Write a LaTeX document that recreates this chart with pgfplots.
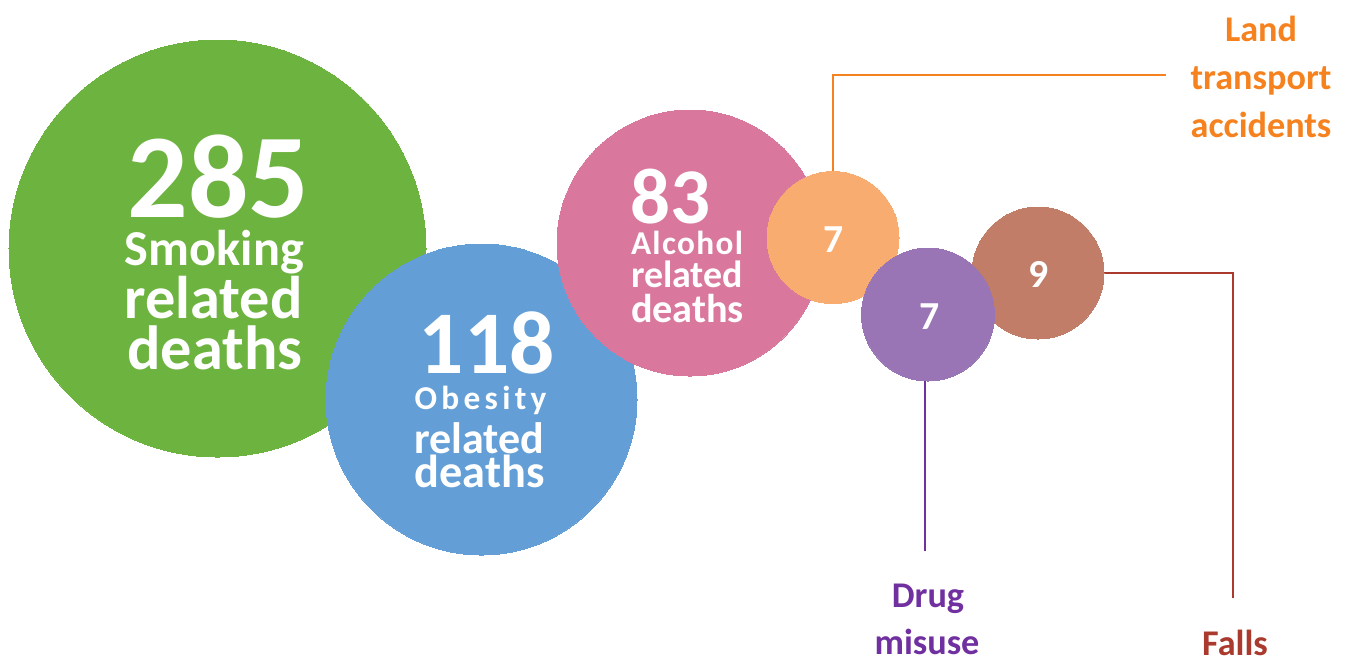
\documentclass[border=0pt]{standalone}
\usepackage{pgfplots}
\pgfplotsset{compat=1.18}
\usepackage{pgfplotstable}
\usepackage{graphicx}
\usepackage{fontspec}
\setmainfont{Carlito}
\newfontfamily\wide[LetterSpace=13]{Carlito}
\newfontfamily\spaced[LetterSpace=4]{Carlito}

\definecolor{cgreen}{HTML}{6DB33F}
\definecolor{cblue}{HTML}{639FD6}
\definecolor{cpink}{HTML}{D9779D}
\definecolor{corange}{HTML}{F9AC70}
\definecolor{cpurple}{HTML}{9A75B5}
\definecolor{cbrown}{HTML}{C17D67}
\definecolor{torange}{HTML}{F5821F}
\definecolor{tpurple}{HTML}{7030A0}
\definecolor{tbrown}{HTML}{A93A2D}

% bubbles: centre and radius in picture pixels (y counted from the top)
\pgfplotstableread{
x      y      r
217.5  248.5  208.5
}\smoking
\pgfplotstableread{
x      y      r
481.5  399.5  155.5
}\obesity
\pgfplotstableread{
x      y      r
690    243    133
}\alcohol
\pgfplotstableread{
x      y      r
833    237.5  66
}\transport
\pgfplotstableread{
x      y      r
1038   273    66
}\falls
\pgfplotstableread{
x      y      r
928    314.5  66.5
}\drugs

% 1 px = 0.1 mm = 0.28453 pt
\newcommand{\fit}[2]{\resizebox{#1mm}{!}{\bfseries #2}}

\pgfplotsset{
    bubble/.style={
        scatter, only marks, mark=*,
        scatter/use mapped color={draw=#1, fill=#1, line width=0pt},
        visualization depends on={\thisrow{r} \as \rad},
        scatter/@pre marker code/.append style={/tikz/mark size=0.28453*\rad},
    },
}

\begin{document}
\begin{tikzpicture}
\begin{axis}[
    set layers,
    scale only axis,
    width=134.8mm, height=65.9mm,
    xmin=0, xmax=1348, ymin=0, ymax=659,
    y dir=reverse,
    hide axis, clip=false,
    every node/.style={inner sep=0pt, font=\bfseries},
]
% leader lines
\addplot[torange, line width=0.6pt] coordinates {(833,172) (833,75) (1166,75)};
\addplot[tpurple, line width=0.6pt] coordinates {(925,381) (925,551)};
\addplot[tbrown, line width=0.6pt] coordinates {(1103,273) (1233,273) (1233,598)};

% bubbles
\addplot[bubble=cgreen] table[x=x, y=y] {\smoking};
\addplot[bubble=cblue] table[x=x, y=y] {\obesity};
\addplot[bubble=cpink] table[x=x, y=y] {\alcohol};
\addplot[bubble=corange] table[x=x, y=y] {\transport};
\addplot[bubble=cbrown] table[x=x, y=y] {\falls};
\addplot[bubble=cpurple] table[x=x, y=y] {\drugs};

\begin{pgfonlayer}{axis foreground}
% text inside bubbles
\node[white, anchor=base] at (axis cs:218.5,217) {\fit{18.2}{285}};
\node[white, anchor=base] at (axis cs:214.5,265) {\fit{17.9}{Smoking}};
\node[white, anchor=base] at (axis cs:213.5,318) {\fit{17.8}{related}};
\node[white, anchor=base] at (axis cs:215,369) {\fit{17.5}{deaths}};

\node[white, anchor=base] at (axis cs:487,373) {\fit{13.6}{118}};
\node[white, anchor=base] at (axis cs:480.5,409) {\fit{13.2}{\wide Obesity}};
\node[white, anchor=base] at (axis cs:479.5,453) {\fit{13.0}{related}};
\node[white, anchor=base] at (axis cs:479.5,487) {\fit{13.0}{deaths}};

\node[white, anchor=base] at (axis cs:670.5,223) {\fit{8.0}{83}};
\node[white, anchor=base] at (axis cs:687,254) {\fit{11.2}{\spaced Alcohol}};
\node[white, anchor=base] at (axis cs:687,287) {\fit{11.2}{related}};
\node[white, anchor=base] at (axis cs:687.5,322) {\fit{11.3}{deaths}};

\node[white, anchor=base, font=\fontsize{11.3}{11.3}\bfseries] at (axis cs:834,252) {7};
\node[white, anchor=base, font=\fontsize{11.3}{11.3}\bfseries] at (axis cs:929.5,329) {7};
\node[white, anchor=base, font=\fontsize{11.3}{11.3}\bfseries] at (axis cs:1039,287) {9};

% outer labels
\node[torange, anchor=base, font=\fontsize{10.3}{10.3}\bfseries] at (axis cs:1261,41) {Land};
\node[torange, anchor=base, font=\fontsize{10.3}{10.3}\bfseries] at (axis cs:1261,89) {transport};
\node[torange, anchor=base, font=\fontsize{10.3}{10.3}\bfseries] at (axis cs:1261,137) {accidents};
\node[tpurple, anchor=base, font=\fontsize{10.3}{10.3}\bfseries] at (axis cs:928,607) {Drug};
\node[tpurple, anchor=base, font=\fontsize{10.3}{10.3}\bfseries] at (axis cs:927,654) {misuse};
\node[tbrown, anchor=base, font=\fontsize{10.3}{10.3}\bfseries] at (axis cs:1235,655) {Falls};
\end{pgfonlayer}
\end{axis}
\pgfresetboundingbox
\path (current axis.south west) rectangle (current axis.north east);
\end{tikzpicture}
\end{document}
